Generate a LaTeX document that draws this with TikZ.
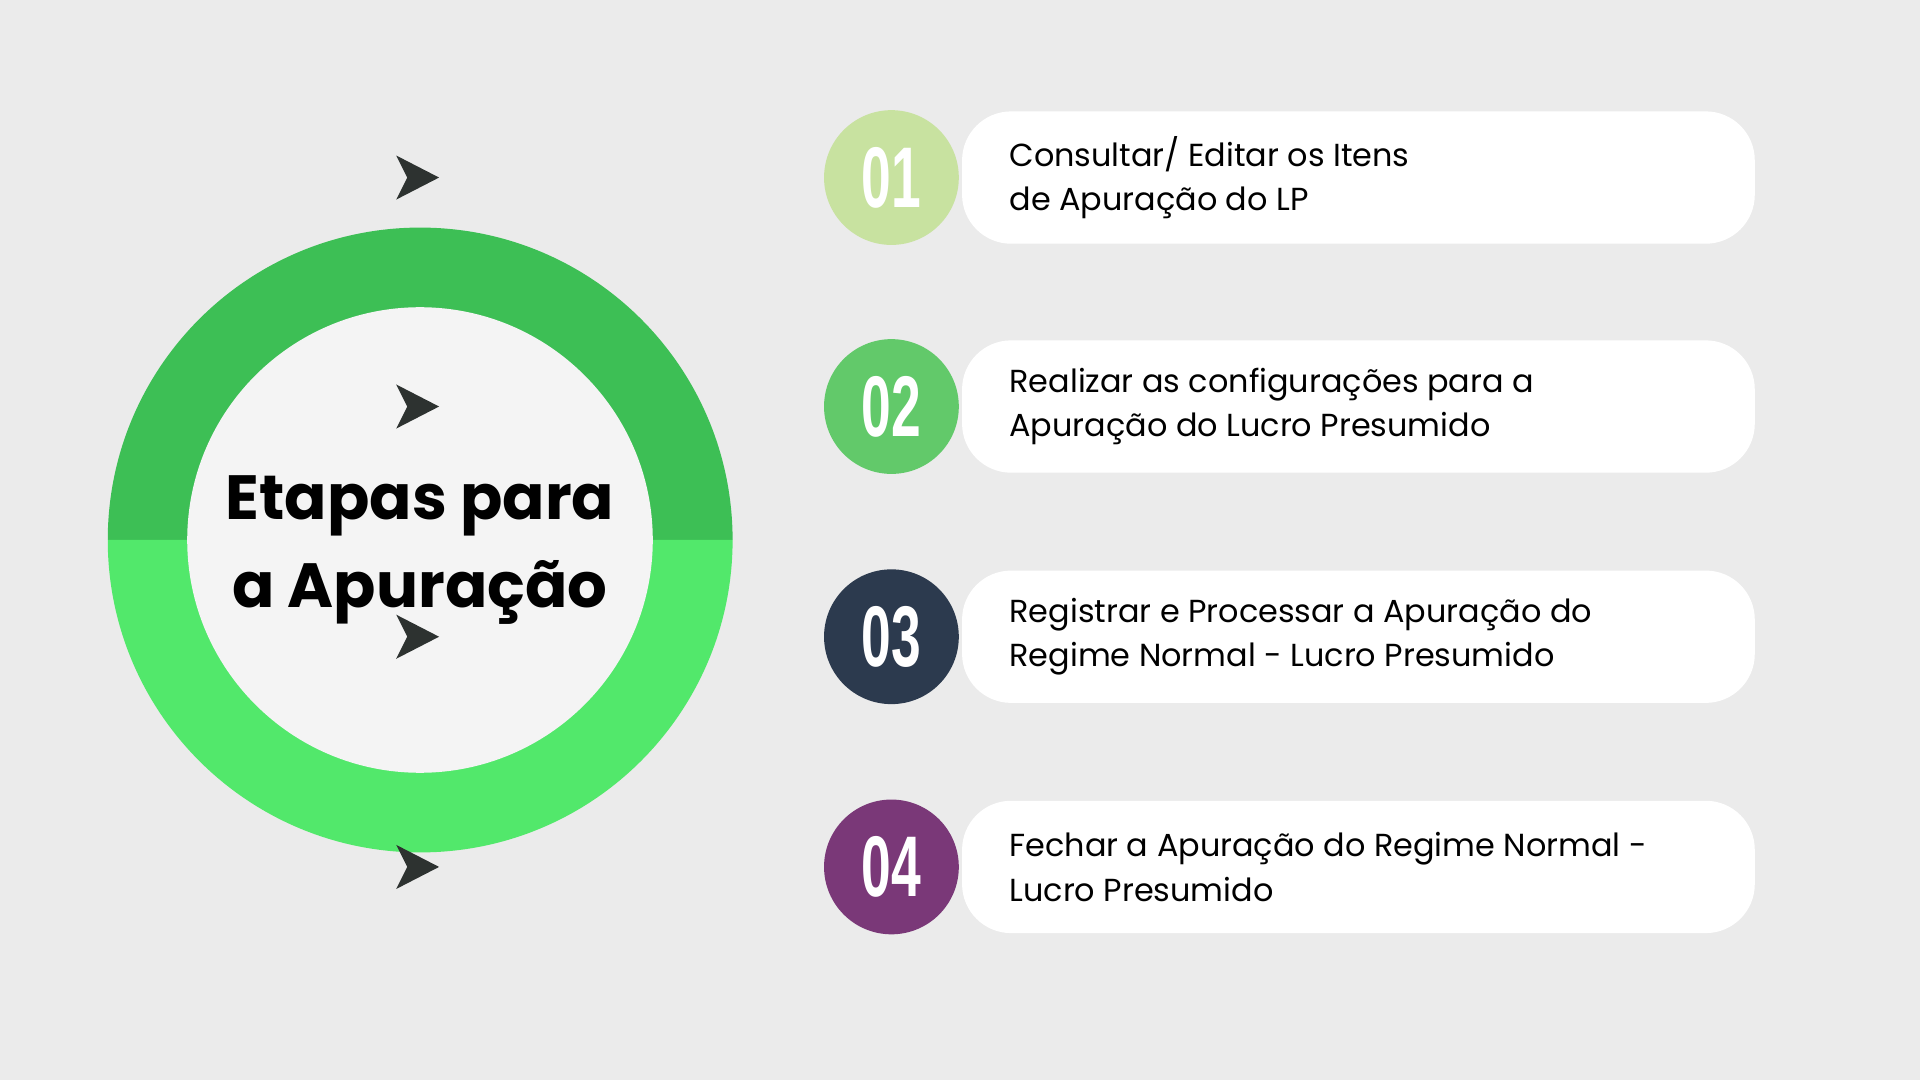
\documentclass[tikz,border=0pt]{standalone}
\usepackage{fontspec}
\setmainfont{Poppins}
\usetikzlibrary{positioning}
\definecolor{bgcol}{HTML}{EBEBEB}
\definecolor{ringtop}{HTML}{3DBF55}
\definecolor{ringbot}{HTML}{52E86B}
\definecolor{innercol}{HTML}{F4F4F4}
\definecolor{arrcol}{HTML}{2D3230}
\definecolor{stepa}{HTML}{C8E2A0}
\definecolor{stepb}{HTML}{62C96A}
\definecolor{stepc}{HTML}{2C3A4E}
\definecolor{stepd}{HTML}{7A3878}
\newcommand{\stepnum}[1]{\scalebox{0.62}[1]{\fontspec{Liberation Sans}\bfseries #1}}
\begin{document}
\begin{tikzpicture}[x=0.01cm,y=-0.01cm]
  \tikzset{numcirc/.style={circle, minimum size=1.1cm, inner sep=0pt, text=white, font=\fontsize{20}{20}\selectfont},
           stepbox/.style={fill=white, rounded corners=0.4cm, minimum width=6.47cm, minimum height=1.08cm, anchor=west},
           steptext/.style={align=left, anchor=west, font=\fontsize{7.4}{10.4}\selectfont, text=black},
           chevron/.style={fill=arrcol}}
%% Background
  \fill[bgcol] (0,0) rectangle (1568,882);
  \useasboundingbox (0,0) rectangle (1568,882);
%% Ring
  \fill[ringtop] (88,441) arc[start angle=180, end angle=0, radius=2.55cm] -- cycle;
  \fill[ringbot] (88,441) arc[start angle=180, end angle=360, radius=2.55cm] -- cycle;
  \fill[innercol] (343,441) circle[radius=1.9cm];
  \node[align=center, font=\fontsize{14.5}{20.5}\selectfont\bfseries] (title) at (343,449) {Etapas para\\a Apuração};
%% Steps
  \foreach \i/\y/\col/\num/\txt in {1/145/stepa/01/{Consultar/ Editar os Itens\\de Apuração do LP},
      2/332/stepb/02/{Realizar as configurações para a\\Apuração do Lucro Presumido},
      3/520/stepc/03/{Registrar e Processar a Apuração do\\Regime Normal - Lucro Presumido},
      4/708/stepd/04/{Fechar a Apuração do Regime Normal -\\Lucro Presumido}} {
    \node[stepbox] (box\i) at (785,\y) {};
    \node[numcirc, fill=\col] (num\i) at (728,\y) {\stepnum{\num}};
    \node[steptext] (txt\i) at (812,\y) {\txt};
    \fill[chevron] ([xshift=-115]num\i.center) ++(0,-18) -- ++(35,18) -- ++(-35,18) -- ++(9,-18) -- cycle;
  }
\end{tikzpicture}
\end{document}
